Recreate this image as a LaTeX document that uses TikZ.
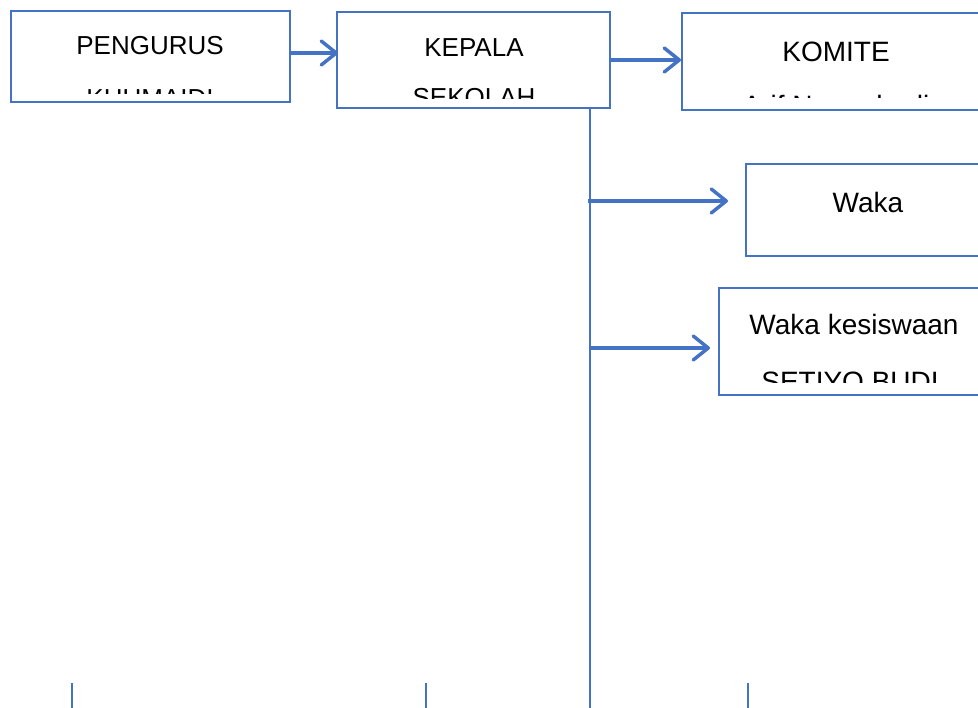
\documentclass[tikz,border=0pt]{standalone}
\usepackage{fontspec}
\setmainfont{Liberation Sans}
\usetikzlibrary{arrows.meta}
\definecolor{wblue}{HTML}{4472C4}
\tikzset{
  boxline/.style={draw=wblue,line width=2.6pt},
  conn/.style={draw=wblue,line width=3.5pt,-{Straight Barb[length=15pt,width=24pt,line width=3.5pt,round]}},
  thinline/.style={draw=wblue,line width=1.6pt},
  lbl/.style={anchor=base,inner sep=0pt,font=\fontsize{26}{26}\selectfont},
  lblb/.style={anchor=base,inner sep=0pt,font=\fontsize{28}{28}\selectfont},
}
\begin{document}
\begin{tikzpicture}[x=1pt,y=-1pt]
\useasboundingbox (0,0) rectangle (978,708);
% boxes
\path[boxline] (11,11) rectangle (290,102);
\path[boxline] (337,12) rectangle (610,108);
\path[boxline] (682,13) rectangle (990,110);
\path[boxline] (746,164) rectangle (990,256);
\path[boxline] (719,288) rectangle (990,395);
% anchors for connectors
\coordinate (pengR) at (290,53);
\coordinate (kepL) at (338,53);
\coordinate (kepR) at (610,60);
\coordinate (komL) at (681,60);
\coordinate (vtop) at (590,108);
\coordinate (vbot) at (590,708);
\coordinate (a1s) at (588,201);
\coordinate (a1e) at (728,201);
\coordinate (a2s) at (590,348);
\coordinate (a2e) at (710,348);
% texts
\node[lbl] (peng) at (150,55) {PENGURUS};
\node[lbl] (kep) at (474,57) {KEPALA};
\node[lblb] (kom) at (836,62) {KOMITE};
\node[lblb] (waka) at (868,213) {Waka};
\node[lblb] (wakak) at (854,335) {Waka kesiswaan};
\begin{scope}
\clip (13,60) rectangle (288,94);
\node[lbl] (khum) at (150,108) {KHUMAIDI};
\end{scope}
\begin{scope}
\clip (339,60) rectangle (608,99);
\node[lbl] (sek) at (474,107) {SEKOLAH};
\end{scope}
\begin{scope}
\clip (684,70) rectangle (978,98);
\node[lblb] (arif) at (836,116) {Arif Nurmahadi};
\end{scope}
\begin{scope}
\clip (721,340) rectangle (978,383);
\node[lblb] (setiyo) at (850,392) {SETIYO BUDI};
\end{scope}
% connectors
\draw[conn] (pengR) -- (kepL);
\draw[conn] (kepR) -- (komL);
\draw[thinline] (vtop) -- (vbot);
\draw[conn] (a1s) -- (a1e);
\draw[conn] (a2s) -- (a2e);
% bottom ticks
\coordinate (t1a) at (72,683); \coordinate (t1b) at (72,708);
\coordinate (t2a) at (426,683); \coordinate (t2b) at (426,708);
\coordinate (t3a) at (748,683); \coordinate (t3b) at (748,708);
\draw[thinline] (t1a) -- (t1b);
\draw[thinline] (t2a) -- (t2b);
\draw[thinline] (t3a) -- (t3b);
\end{tikzpicture}
\end{document}
